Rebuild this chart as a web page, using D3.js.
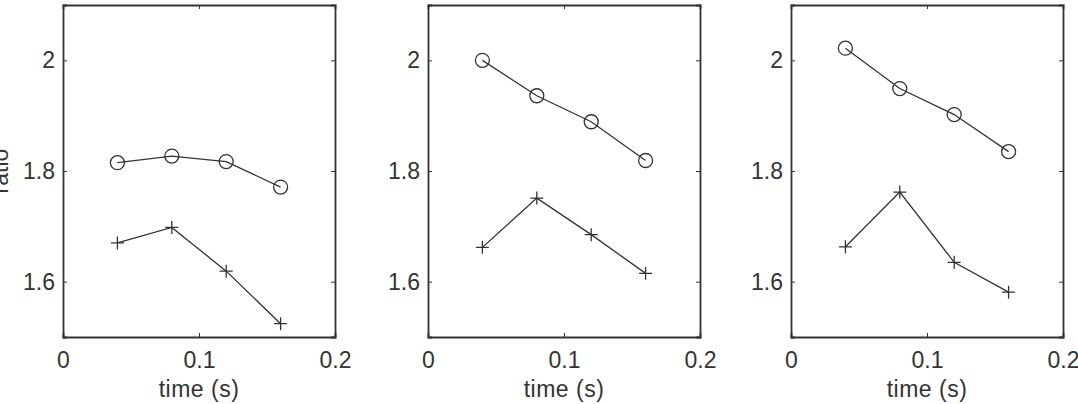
<!DOCTYPE html>
<html>
<head>
<meta charset="utf-8">
<script src="https://cdn.jsdelivr.net/npm/d3@7"></script>
<style>
  body { margin: 0; background: #fff; }
  svg { display: block; }
  text { font-family: "Liberation Sans", Arial, sans-serif; fill: #333; }
</style>
</head>
<body>
<svg class="chart" width="1078" height="404"></svg>
<script>
// the data
const times = [0.04, 0.08, 0.12, 0.16];
const circleSeries = [
    [1.815, 1.827, 1.817, 1.771],
    [2.000, 1.936, 1.889, 1.819],
    [2.022, 1.949, 1.902, 1.835]
];
const plusSeries = [
    [1.670, 1.698, 1.619, 1.524],
    [1.662, 1.751, 1.685, 1.615],
    [1.663, 1.762, 1.635, 1.581]
];
const xTicks = [0, 0.1, 0.2];
const yTicks = [1.6, 1.8, 2];

const svg = d3.select('.chart');

// panel dimensions
const panelLefts = [63, 428, 791];
const panelWidth = 272;
const plotTop = 5;
const plotBottom = 337;
const ink = '#333';
const fontSize = '23px';

const y = d3.scaleLinear().domain([1.5, 2.1]).range([plotBottom, plotTop]);

// y label, cut off at the left edge like the original
svg.append('text')
    .attr('transform', `translate(8,${y(1.8)}) rotate(-90)`)
    .attr('text-anchor', 'middle')
    .style('font-size', fontSize)
    .text('ratio');

function drawPanel(i) {
    const x = d3.scaleLinear()
        .domain([0, 0.2])
        .range([panelLefts[i], panelLefts[i] + panelWidth]);

    const g = svg.append('g');

    // axes with inward ticks on all four sides
    const axes = [
        [d3.axisBottom(x).tickValues(xTicks).tickSize(-4).tickPadding(15).tickFormat(d3.format('')), `translate(0,${plotBottom})`],
        [d3.axisTop(x).tickValues(xTicks).tickSize(-4).tickFormat(''), `translate(0,${plotTop})`],
        [d3.axisLeft(y).tickValues(yTicks).tickSize(-4).tickPadding(8).tickFormat(d3.format('')), `translate(${x(0)},0)`],
        [d3.axisRight(y).tickValues(yTicks).tickSize(-4).tickFormat(''), `translate(${x(0.2)},0)`]
    ];
    axes.forEach(([axis, tr]) => {
        const a = g.append('g').attr('transform', tr).call(axis);
        a.select('.domain').attr('stroke', ink).attr('stroke-width', 1.8);
        a.selectAll('.tick line').attr('stroke', ink);
        a.selectAll('text')
            .style('font-family', '"Liberation Sans", Arial, sans-serif')
            .style('font-size', fontSize)
            .attr('fill', ink);
    });

    g.append('text')
        .attr('x', x(0.1))
        .attr('y', 397)
        .attr('text-anchor', 'middle')
        .style('font-size', fontSize)
        .style('letter-spacing', '0.5px')
        .text('time (s)');

    const line = d3.line()
        .x((d, j) => x(times[j]))
        .y(d => y(d));

    // circle series
    g.append('path')
        .attr('d', line(circleSeries[i]))
        .attr('fill', 'none')
        .attr('stroke', ink)
        .attr('stroke-width', 1.3);
    g.selectAll('.circ')
        .data(circleSeries[i])
        .join('circle')
        .attr('class', 'circ')
        .attr('cx', (d, j) => x(times[j]))
        .attr('cy', d => y(d))
        .attr('r', 7)
        .attr('fill', 'none')
        .attr('stroke', ink)
        .attr('stroke-width', 1.3);

    // plus series
    g.append('path')
        .attr('d', line(plusSeries[i]))
        .attr('fill', 'none')
        .attr('stroke', ink)
        .attr('stroke-width', 1.3);
    g.selectAll('.plus')
        .data(plusSeries[i])
        .join('path')
        .attr('class', 'plus')
        .attr('d', (d, j) => {
            const cx = x(times[j]), cy = y(d), s = 6.5;
            return `M${cx - s},${cy}H${cx + s}M${cx},${cy - s}V${cy + s}`;
        })
        .attr('stroke', ink)
        .attr('stroke-width', 1.3);
}

[0, 1, 2].forEach(drawPanel);
</script>
</body>
</html>
